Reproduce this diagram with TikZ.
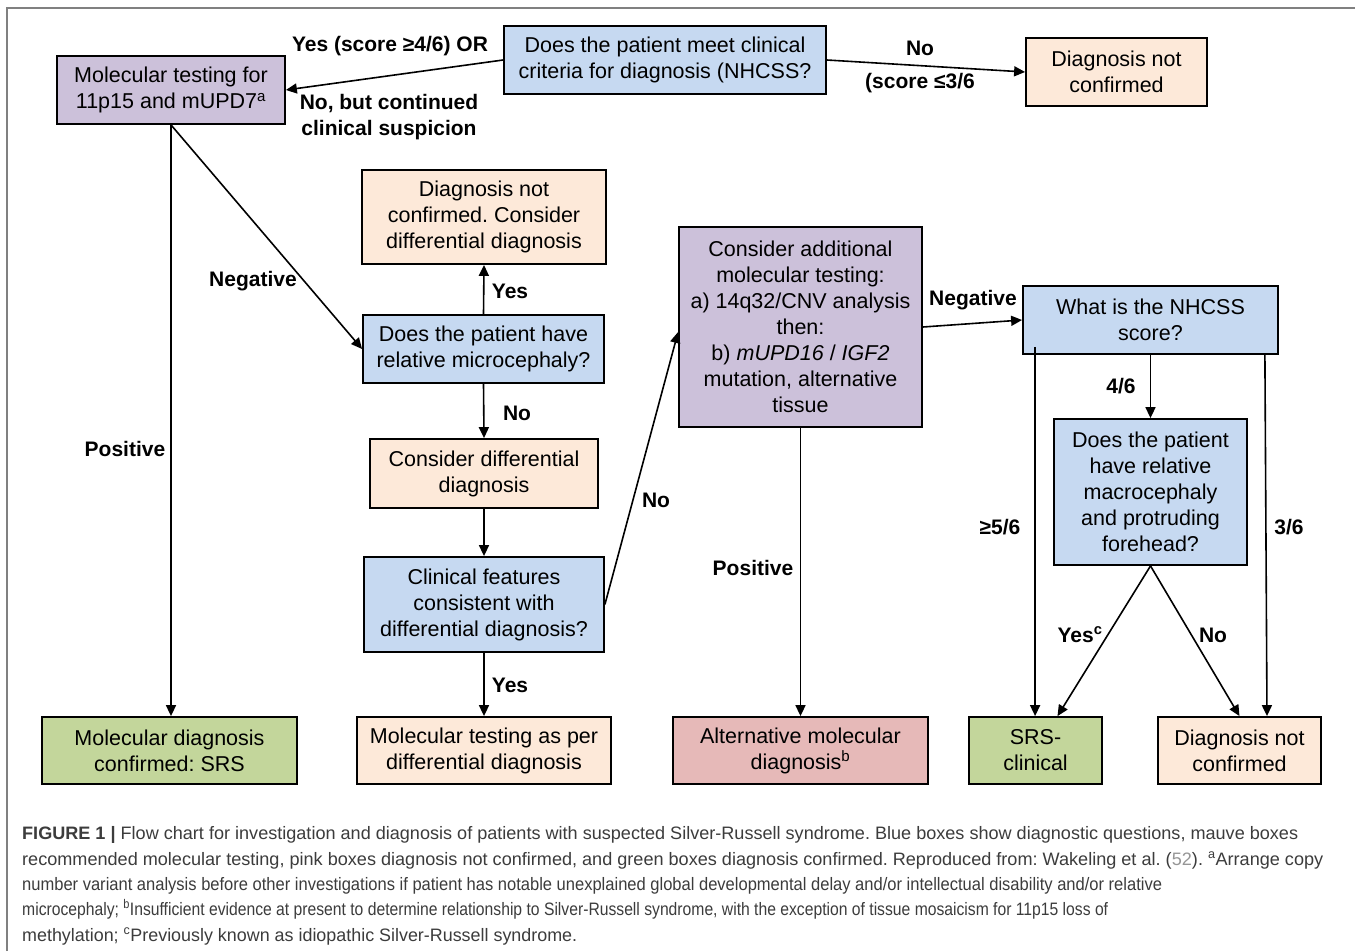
\documentclass[tikz,border=0pt]{standalone}
\usepackage{fontspec}
\usepackage{graphicx}
\setmainfont{Liberation Sans}
\usetikzlibrary{arrows.meta}
\definecolor{qblue}{RGB}{198,217,241}
\definecolor{mauve}{RGB}{204,193,218}
\definecolor{peach}{RGB}{253,233,217}
\definecolor{sgreen}{RGB}{195,214,155}
\definecolor{rosy}{RGB}{230,185,184}
\definecolor{framegray}{RGB}{128,128,128}
\definecolor{captxt}{RGB}{60,60,60}
\definecolor{reflink}{RGB}{150,150,150}
\newcommand{\capfit}[2]{\resizebox{#1}{\height}{\frenchspacing #2}}
\begin{document}
\frenchspacing
\begin{tikzpicture}[x=1pt,y=-1pt,
  box/.style={draw=black, line width=1.8pt, align=center, inner sep=0pt,
    font=\fontsize{21.5}{26}\selectfont\frenchspacing, text=black},
  conn/.style={line width=1.6pt, -{Triangle[length=11pt,width=10pt]}},
  lbl/.style={font=\fontsize{21}{26}\selectfont\bfseries, anchor=base, inner sep=0pt},
  capline/.style={anchor=base west, inner sep=0pt, text=captxt, font=\fontsize{18}{22}\selectfont},
]
\useasboundingbox (0,0) rectangle (1355,951);
\fill[white] (0,0) rectangle (1355,951);
\draw[framegray, line width=1.5pt] (7,951) -- (7,8) -- (1355,8);

% boxes
\node[box, fill=mauve, minimum width=228pt, minimum height=68pt] (M1) at (171,90) {Molecular testing for\\11p15 and mUPD7\textsuperscript{a}};
\node[box, fill=qblue, minimum width=322pt, minimum height=68pt] (Q1) at (665,60) {Does the patient meet clinical\\criteria for diagnosis (NHCSS?};
\node[box, fill=peach, minimum width=181pt, minimum height=68pt] (D1) at (1116.5,72) {Diagnosis not\\confirmed};
\node[box, fill=peach, minimum width=244pt, minimum height=94pt] (D2) at (484,217) {Diagnosis not\\confirmed. Consider\\differential diagnosis};
\node[box, fill=qblue, minimum width=241pt, minimum height=68pt] (Q2) at (483.5,349) {Does the patient have\\relative microcephaly?};
\node[box, fill=peach, minimum width=228pt, minimum height=69pt] (D3) at (484,473.5) {Consider differential\\diagnosis};
\node[box, fill=qblue, minimum width=240pt, minimum height=95pt] (Q3) at (484,604.5) {Clinical features\\consistent with\\differential diagnosis?};
\node[box, fill=peach, minimum width=254pt, minimum height=67pt] (D4) at (484,750.5) {Molecular testing as per\\differential diagnosis};
\node[box, fill=mauve, minimum width=243pt, minimum height=200pt] (M2) at (800.5,327) {Consider additional\\molecular testing:\\a) 14q32/CNV analysis\\then:\\b) \textit{mUPD16} / \textit{IGF2}\\mutation, alternative\\tissue};
\node[box, fill=rosy, minimum width=255pt, minimum height=67pt] (R1) at (800.5,750.5) {Alternative molecular\\diagnosis\textsuperscript{b}};
\node[box, fill=qblue, minimum width=255pt, minimum height=68pt] (Q4) at (1150.5,320) {What is the NHCSS\\score?};
\node[box, fill=qblue, minimum width=193pt, minimum height=146pt] (Q5) at (1150.5,492) {Does the patient\\have relative\\macrocephaly\\and protruding\\forehead?};
\node[box, fill=sgreen, minimum width=133pt, minimum height=67pt] (G2) at (1035.5,750.5) {SRS-\\clinical};
\node[box, fill=peach, minimum width=163pt, minimum height=67pt] (D5) at (1239.5,750.5) {Diagnosis not\\confirmed};
\node[box, fill=sgreen, minimum width=255pt, minimum height=67pt] (G1) at (169.5,750.5) {Molecular diagnosis\\confirmed: SRS};

% connectors
\draw[conn] (Q1.west) -- (M1.east);
\draw[conn] (Q1.east) -- (D1.west);
\draw[conn] (M1.south) -- (M1.south |- G1.north);
\draw[conn] (M1.south) -- (Q2.west);
\draw[conn] (Q2.north) -- (D2.south);
\draw[conn] (Q2.south) -- (D3.north);
\draw[conn] (D3.south) -- (Q3.north);
\draw[conn] (Q3.south) -- (D4.north);
\draw[conn] (Q3.east) -- ([yshift=-5pt]M2.west);
\draw[conn] (M2.south) -- (R1.north);
\draw[conn] (M2.east) -- (Q4.west);
\coordinate (q4l) at ([xshift=13pt,yshift=8pt]Q4.south west);
\draw[conn] (q4l) -- (q4l |- G2.north);
\draw[conn] ([xshift=-14pt]Q4.south east) -- ([xshift=27.5pt]D5.north);
\draw[conn] (Q4.south) -- (Q5.north);
\draw[conn] (Q5.south) -- ([xshift=22pt]G2.north);
\draw[conn] (Q5.south) -- (D5.north);

% labels
\node[lbl] (l1) at (390,51) {Yes (score ≥4/6) OR};
\node[lbl, anchor=center, align=center] (l2) at (389,117) {No, but continued\\clinical suspicion};
\node[lbl] (l3) at (920,55) {No};
\node[lbl] (l4) at (920,88) {(score ≤3/6};
\node[lbl] (l5) at (253,286) {Negative};
\node[lbl] (l6) at (125,456) {Positive};
\node[lbl] (l7) at (510,298) {Yes};
\node[lbl] (l8) at (517,420) {No};
\node[lbl] (l9) at (656,507) {No};
\node[lbl] (l10) at (510,692) {Yes};
\node[lbl] (l11) at (753,575) {Positive};
\node[lbl] (l12) at (973,305) {Negative};
\node[lbl] (l13) at (1121,393) {4/6};
\node[lbl] (l14) at (1000,534) {≥5/6};
\node[lbl] (l15) at (1289,534) {3/6};
\node[lbl] (l16) at (1080,642) {Yes\textsuperscript{c}};
\node[lbl] (l17) at (1213,642) {No};

% caption
\node[capline] (c1) at (22,839) {\capfit{1276pt}{\textbf{FIGURE 1 |} Flow chart for investigation and diagnosis of patients with suspected Silver-Russell syndrome. Blue boxes show diagnostic questions, mauve boxes}};
\node[capline] (c2) at (22,865) {\capfit{1301pt}{recommended molecular testing, pink boxes diagnosis not confirmed, and green boxes diagnosis confirmed. Reproduced from: Wakeling et al. ({\color{reflink}52}). \textsuperscript{a}Arrange copy}};
\node[capline] (c3) at (22,890) {\capfit{1140pt}{number variant analysis before other investigations if patient has notable unexplained global developmental delay and/or intellectual disability and/or relative}};
\node[capline] (c4) at (22,915) {\capfit{1086pt}{microcephaly; \textsuperscript{b}Insufficient evidence at present to determine relationship to Silver-Russell syndrome, with the exception of tissue mosaicism for 11p15 loss of}};
\node[capline] (c5) at (22,941) {\capfit{555pt}{methylation; \textsuperscript{c}Previously known as idiopathic Silver-Russell syndrome.}};
\end{tikzpicture}
\end{document}
